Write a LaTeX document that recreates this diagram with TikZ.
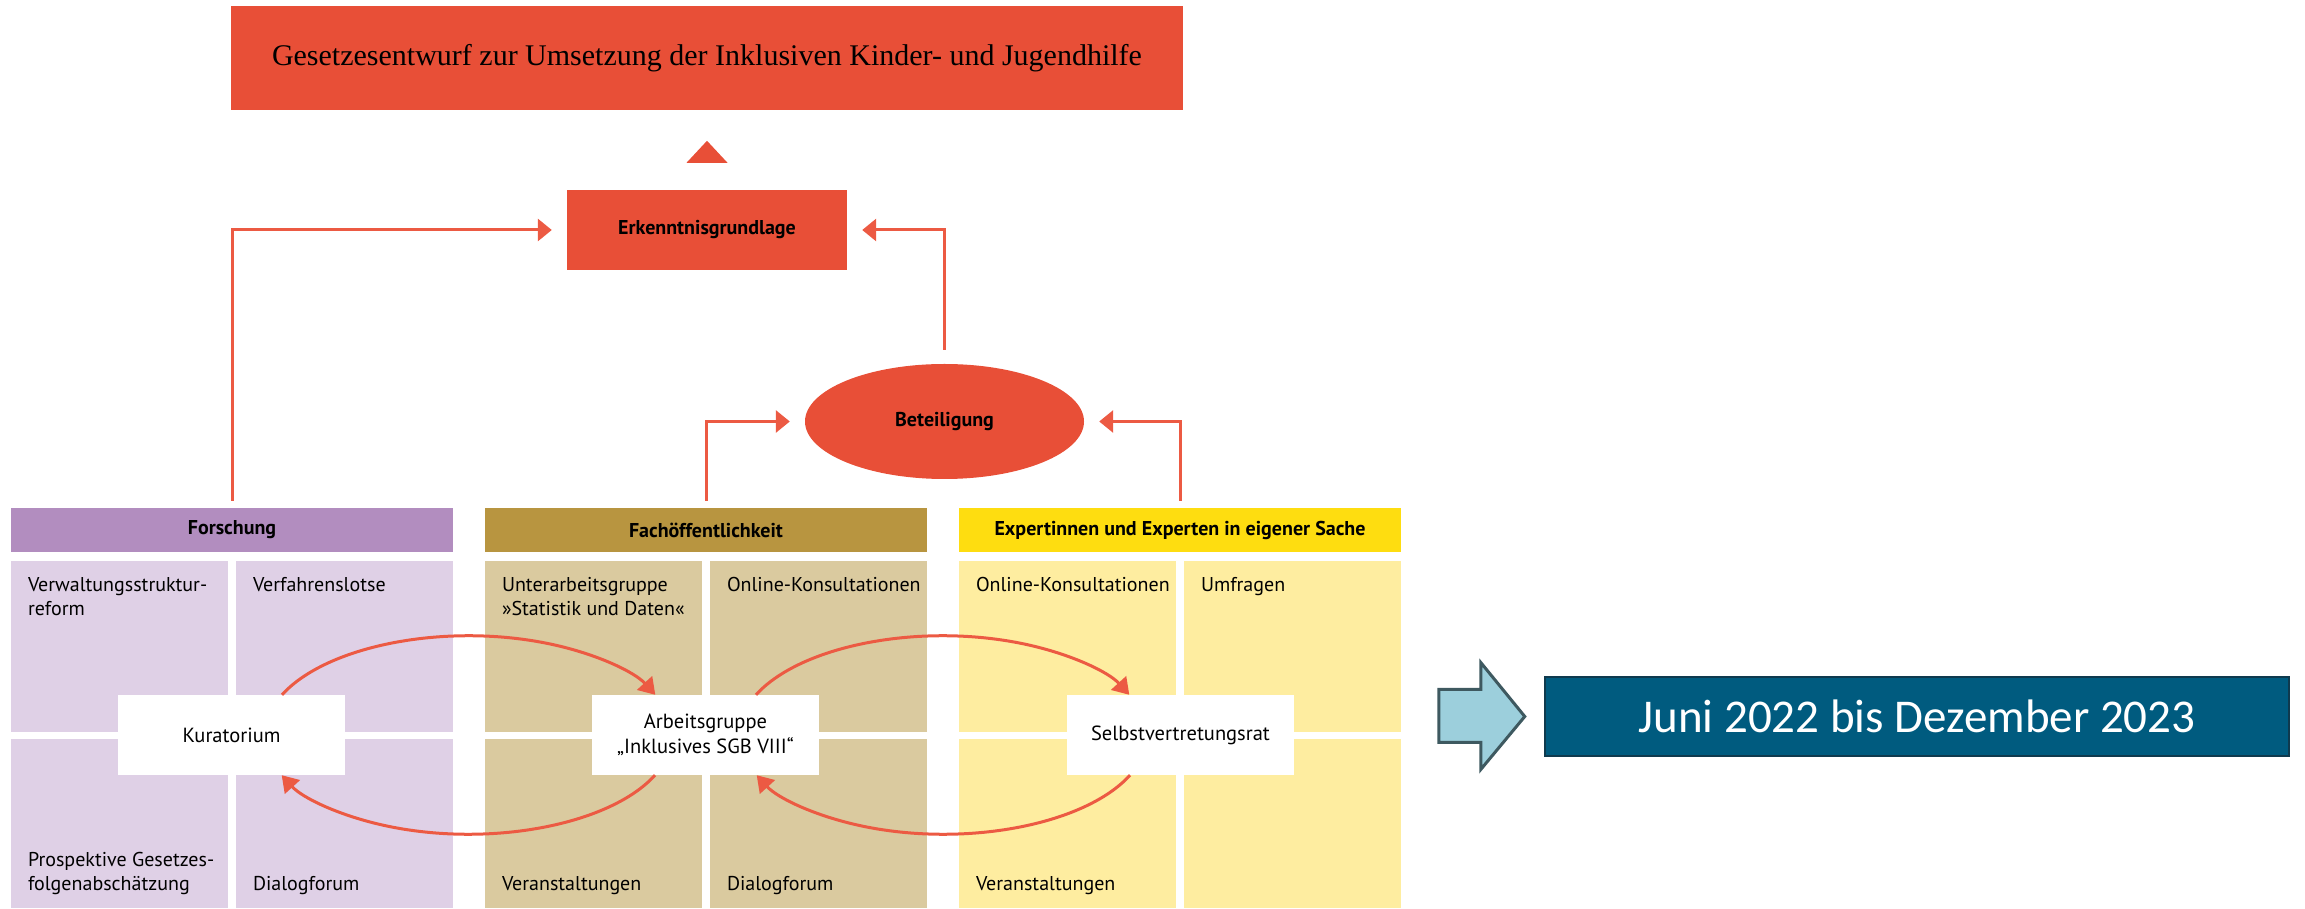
\documentclass[tikz,border=0pt]{standalone}
\usepackage{fontspec}
\setmainfont{PT Sans}
\newfontfamily\titelfont{Liberation Serif}
\newfontfamily\datumfont{Carlito}
\usetikzlibrary{arrows.meta,calc,shapes.geometric,positioning}

\definecolor{rot}{HTML}{E84F37}
\definecolor{linie}{HTML}{EC5A43}
\definecolor{lilaK}{HTML}{B28DBF}
\definecolor{lilaZ}{HTML}{DFD0E6}
\definecolor{goldK}{HTML}{B89540}
\definecolor{goldZ}{HTML}{DACA9F}
\definecolor{gelbK}{HTML}{FEDD10}
\definecolor{gelbZ}{HTML}{FEEDA0}
\definecolor{petrol}{HTML}{005B7F}
\definecolor{petrolR}{HTML}{0F3A4E}
\definecolor{hellblau}{HTML}{9CCFDC}
\definecolor{pfeilR}{HTML}{3E5960}

\tikzset{
	rotbox/.style={fill=rot, inner sep=0pt, font=\bfseries\fontsize{20}{24}\selectfont},
	kopf/.style={minimum width=442pt, minimum height=44pt, inner sep=0pt, font=\bfseries\fontsize{20}{24}\selectfont},
	zelle/.style={minimum width=217pt, inner sep=0pt},
	ztext/.style={font=\fontsize{20}{24}\selectfont, align=left, inner xsep=17pt, inner ysep=16.5pt},
	weiss/.style={fill=white, minimum width=227pt, minimum height=80pt, inner sep=0pt, align=center, font=\fontsize{20.5}{25}\selectfont},
	fluss/.style={draw=linie, line width=3pt, -{Triangle[length=14pt,width=22pt]}, shorten <=7pt, shorten >=15pt},
	kreis/.style={draw=linie, line width=3pt, -{Triangle[length=16pt,width=20pt]}},
}

\begin{document}
\begin{tikzpicture}[x=1pt,y=1pt]
	\def\sp{474}
	\def\da{50.5}
	\useasboundingbox (0,0) rectangle (2305,908);

	% oben
	\node[fill=rot, minimum width=952pt, minimum height=104pt, font=\titelfont\fontsize{30}{36}\selectfont] (gesetz) at (707,850) {Gesetzesentwurf zur Umsetzung der Inklusiven Kinder- und Jugendhilfe};
	\node[rotbox, minimum width=280pt, minimum height=80pt] (erk) at (707,678) {Erkenntnisgrundlage};
	\fill[rot] ($(erk.north)+(0,49)$) -- ++(-20.5,-22) -- ++(41,0) -- cycle;
	\node[rotbox, ellipse, minimum width=279pt, minimum height=115pt] (bet) at (944.5,486.5) {Beteiligung};

	% Spalten
	\foreach \i/\nm/\kc/\zc/\titel/\ta/\tb/\tc/\td in {
		0/fo/lilaK/lilaZ/Forschung/{Verwaltungsstruktur-\\reform}/Verfahrenslotse/{Prospektive Gesetzes-\\folgenabschätzung}/Dialogforum,
		1/fa/goldK/goldZ/Fachöffentlichkeit/{Unterarbeitsgruppe\\»Statistik und Daten«}/Online-Konsultationen/Veranstaltungen/Dialogforum,
		2/ex/gelbK/gelbZ/Expertinnen und Experten in eigener Sache/Online-Konsultationen/Umfragen/Veranstaltungen/{}} {
		\node[kopf, fill=\kc] (\nm) at (232+\i*\sp,378) {\titel};
		\node[zelle, fill=\zc, minimum height=171pt, label={[ztext, anchor=north west]north west:\ta}] (\nm1) at (119.5+\i*\sp,261.5) {};
		\node[zelle, fill=\zc, minimum height=171pt, label={[ztext, anchor=north west]north west:\tb}] (\nm2) at (344.5+\i*\sp,261.5) {};
		\node[zelle, fill=\zc, minimum height=169pt, label={[ztext, anchor=south west, inner ysep=13pt]south west:\tc}] (\nm3) at (119.5+\i*\sp,84.5) {};
		\node[zelle, fill=\zc, minimum height=169pt, label={[ztext, anchor=south west, inner ysep=13pt]south west:\td}] (\nm4) at (344.5+\i*\sp,84.5) {};
	}

	% Gremien
	\node[weiss] (kur) at (231.5,173) {Kuratorium};
	\node[weiss] (ag) at (705.5,173) {Arbeitsgruppe\\„Inklusives SGB VIII“};
	\node[weiss] (svr) at (1180.5,173) {Selbstvertretungsrat};

	% Kreislauf
	\foreach \a/\b in {kur/ag, ag/svr} {
		\draw[kreis] ($(\a.north)+(\da,0)$) arc[start angle=156.2, end angle=23.8, x radius=204, y radius=99];
		\draw[kreis] ($(\b.south)+(-\da,0)$) arc[start angle=-23.8, end angle=-156.2, x radius=204, y radius=99];
	}

	% Pfeile
	\draw[fluss] (fo.north) |- (erk.west);
	\draw[fluss, shorten <=14pt] (bet.north) |- (erk.east);
	\draw[fluss] (fa.north) |- (bet.west);
	\draw[fluss] (ex.north) |- (bet.east);

	% Zeitraum
	\node[draw=petrolR, line width=2.5pt, fill=petrol, text=white, minimum width=744pt, minimum height=79pt, font=\datumfont\fontsize{47}{56}\selectfont] (datum) at (1917,191.5) {Juni 2022 bis Dezember 2023};
	\draw[fill=hellblau, draw=pfeilR, line width=3pt] ($(datum.west)+(-19,0)$) -- ++(-44,54) -- ++(0,-27) -- ++(-42,0) -- ++(0,-53) -- ++(42,0) -- ++(0,-27) -- cycle;

\end{tikzpicture}
\end{document}
